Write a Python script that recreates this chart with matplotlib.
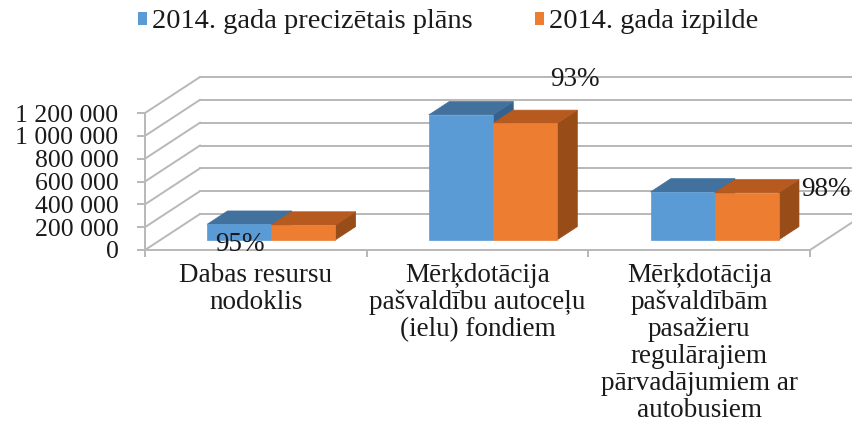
import numpy as np
import matplotlib
matplotlib.use('Agg')
from matplotlib import pyplot as plt
from matplotlib.patches import Polygon, Patch
from matplotlib.ticker import FuncFormatter

# data
categories = ['Dabas resursu\nnodoklis',
              'Mērķdotācija\npašvaldību autoceļu\n(ielu) fondiem',
              'Mērķdotācija\npašvaldībām\npasažieru\nregulārajiem\npārvadājumiem ar\nautobusiem']
plan_2014 = [137000, 1095000, 420000]
fact_2014 = [130000, 1020000, 412000]
pct_labels = ['95%', '93%', '98%']
series_names = ['2014. gada precizētais plāns', '2014. gada izpilde']

# label positions (category units, value units)
pct_pos = [(0.43, 44000), (1.94, 1490000), (3.07, 534000)]

plt.rcParams['font.family'] = ['Liberation Serif', 'DejaVu Serif']

W, H = 853, 432
fig = plt.figure(figsize=(W / 100, H / 100), dpi=100)
ax = fig.add_axes([145 / W, (H - 250) / H, 665 / W, 137 / H])
ax.set_xlim(0, 3)
ax.set_ylim(0, 1200000)
ax.patch.set_alpha(0)

grid_c = '#B8B8B8'
txt_c = '#1a1a1a'
# oblique depth of the floor, in data units
DX = 55 / (665 / 3)
DY = 36 / 137 * 1200000
bar_w = 0.289
d0, d1 = 0.28, 0.65   # bar front / back depth fraction

yticks = np.arange(0, 1200001, 200000)
for v in yticks:
    ax.plot([0, DX], [v, v + DY], color=grid_c, lw=1.4, clip_on=False, zorder=1)
    ax.plot([DX, 3.3 + DX], [v + DY, v + DY], color=grid_c, lw=1.4, clip_on=False, zorder=1)
ax.plot([3, 3 + DX], [0, DY], color=grid_c, lw=1.4, clip_on=False, zorder=1)


def draw_bar(x0, val, front, top, side, z):
    ox0, oy0 = d0 * DX, d0 * DY
    ox1, oy1 = d1 * DX, d1 * DY
    x1 = x0 + bar_w
    side_pts = [(x1 + ox0, oy0), (x1 + ox1, oy1), (x1 + ox1, val + oy1), (x1 + ox0, val + oy0)]
    top_pts = [(x0 + ox0, val + oy0), (x1 + ox0, val + oy0), (x1 + ox1, val + oy1), (x0 + ox1, val + oy1)]
    front_pts = [(x0 + ox0, oy0), (x1 + ox0, oy0), (x1 + ox0, val + oy0), (x0 + ox0, val + oy0)]
    for pts, c in [(side_pts, side), (top_pts, top), (front_pts, front)]:
        ax.add_patch(Polygon(pts, closed=True, facecolor=c, edgecolor=c, lw=0.5,
                             clip_on=False, zorder=z))


for i in range(len(categories)):
    draw_bar(i + 0.5 - bar_w, plan_2014[i], '#5B9BD5', '#41719C', '#35628C', 3 + i * 2)
    draw_bar(i + 0.5, fact_2014[i], '#ED7D31', '#B65A1F', '#984C18', 4 + i * 2)

for t, (px, py) in zip(pct_labels, pct_pos):
    ax.text(px, py, t, fontsize=19.5, ha='center', va='center', color=txt_c,
            clip_on=False, zorder=10)

for s in ['top', 'right']:
    ax.spines[s].set_visible(False)
for s in ['left', 'bottom']:
    ax.spines[s].set_color(grid_c)
    ax.spines[s].set_linewidth(1.4)

ax.set_yticks(yticks)
ax.yaxis.set_major_formatter(FuncFormatter(lambda v, p: '{:,.0f}'.format(v).replace(',', ' ')))
ax.tick_params(axis='y', length=6, width=1.4, color=grid_c, pad=13, labelsize=18.5, labelcolor=txt_c)

ax.set_xticks([0, 1, 2, 3])
ax.set_xticklabels([])
ax.tick_params(axis='x', which='major', length=5, width=1.4, color=grid_c)

# category labels, one line at a time so the line pitch stays even
for i, cat in enumerate(categories):
    for k, line in enumerate(cat.split('\n')):
        ax.annotate(line, xy=(i + 0.5, 0), xycoords=('data', 'axes fraction'),
                    xytext=(0, -32 - 27 * k), textcoords='offset pixels',
                    ha='center', va='baseline', fontsize=19.5, color=txt_c,
                    annotation_clip=False)

handles = [Patch(facecolor='#5B9BD5'), Patch(facecolor='#ED7D31')]
fig.legend(handles, series_names, loc='center', bbox_to_anchor=(448 / W, 1 - 22 / H),
           ncol=2, frameon=False, fontsize=20.5, handlelength=0.33, handleheight=0.33,
           handletextpad=0.15, columnspacing=2.2, labelcolor=txt_c)

fig.savefig('out.png', dpi=100)
